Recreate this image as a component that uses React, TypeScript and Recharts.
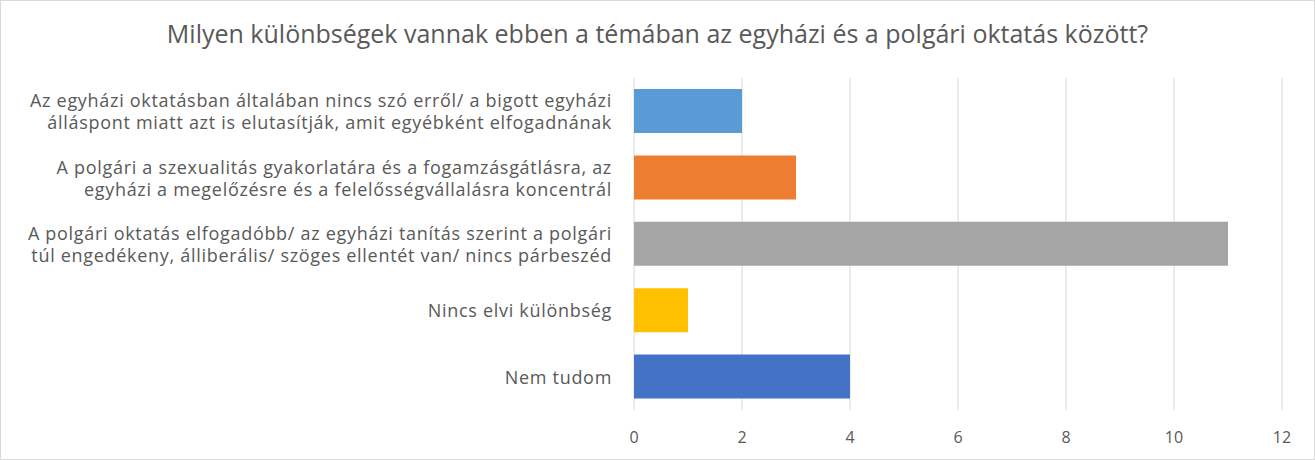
import { BarChart, Bar, XAxis, YAxis, CartesianGrid, Cell } from 'recharts'

const title = 'Milyen különbségek vannak ebben a témában az egyházi és a polgári oktatás között?'

const categories = [
  'Az egyházi oktatásban általában nincs szó erről/ a bigott egyházi\nálláspont miatt azt is elutasítják, amit egyébként elfogadnának',
  'A polgári a szexualitás gyakorlatára és a fogamzásgátlásra, az\negyházi a megelőzésre és a felelősségvállalásra koncentrál',
  'A polgári oktatás elfogadóbb/ az egyházi tanítás szerint a polgári\ntúl engedékeny, álliberális/ szöges ellentét van/ nincs párbeszéd',
  'Nincs elvi különbség',
  'Nem tudom',
]
const values = [2, 3, 11, 1, 4]
const barColors = ['#5B9BD5', '#ED7D31', '#A5A5A5', '#FFC000', '#4472C4']
const xTicks = [0, 2, 4, 6, 8, 10, 12]

const data = categories.map((name, i) => ({ name, value: values[i] }))

const FONT = '"Segoe UI", "Open Sans", "Noto Sans", sans-serif'

function CategoryTick({ x, y, payload }: any) {
  const lines = String(payload.value).split('\n')
  const lh = 22
  const start = y - ((lines.length - 1) * lh) / 2
  return (
    <text x={x - 14} y={start} textAnchor="end" fill="#595959" fontSize={18} letterSpacing={0.7}
      fontFamily={FONT} dominantBaseline="central">
      {lines.map((l, i) => (
        <tspan key={i} x={x - 14} y={start + i * lh}>{l}</tspan>
      ))}
    </text>
  )
}

function ValueTick({ x, y, payload }: any) {
  return (
    <text x={x} y={y + 19} textAnchor="middle" fill="#595959" fontSize={16} fontFamily={FONT} dominantBaseline="central">
      {payload.value}
    </text>
  )
}

export default function App() {
  return (
    <div style={{
      position: 'absolute', left: 0, top: 0, width: 1315, height: 460,
      boxSizing: 'border-box', border: '1px solid #D9D9D9', background: '#fff',
    }}>
      <div style={{
        position: 'absolute', left: 0, right: 0, top: 15, textAlign: 'center',
        fontFamily: FONT, fontSize: 25, color: '#595959', lineHeight: '34px',
      }}>
        {title}
      </div>
      <div style={{ position: 'absolute', left: -1, top: -1 }}>
        <BarChart width={1315} height={460} data={data} layout="vertical"
          margin={{ top: 78, right: 33, bottom: 0, left: 0 }} barSize={44}>
          <CartesianGrid horizontal={false} stroke="#D9D9D9" />
          <XAxis type="number" domain={[0, 12]} ticks={xTicks} height={50}
            axisLine={false} tickLine={false} tick={<ValueTick />} />
          <YAxis type="category" dataKey="name" width={634}
            axisLine={false} tickLine={false} tick={<CategoryTick />} interval={0} />
          <Bar dataKey="value" isAnimationActive={false}>
            {data.map((d, i) => <Cell key={d.name} fill={barColors[i]} />)}
          </Bar>
        </BarChart>
      </div>
    </div>
  )
}
